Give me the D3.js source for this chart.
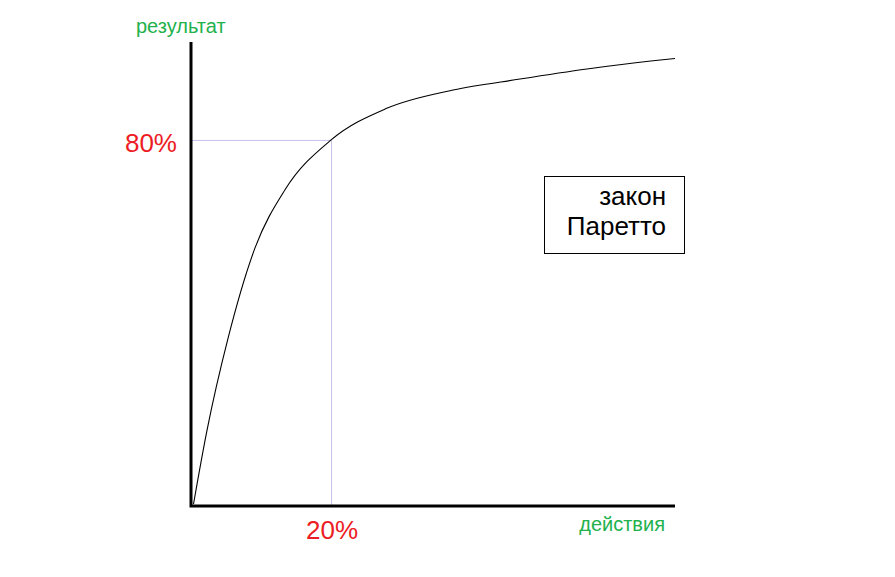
<!DOCTYPE html>
<html>
<head>
<meta charset="utf-8">
<script src="https://cdn.jsdelivr.net/npm/d3@7"></script>
<style>
  body { margin: 0; background: #fff; }
  text { font-family: "Liberation Sans", Arial, sans-serif; }
</style>
</head>
<body>
<div id="chart"></div>
<script>
// Curve of results vs effort
const effort = [0.36, 2.24, 5.33, 9.14, 13.42, 20, 27.94, 37.41, 46.97, 56.53, 65.96, 69.1];
const result = [0.44, 16.2, 36.9, 56.4, 69.1, 80, 86.9, 90.9, 93.3, 95.5, 97.3, 97.8];

// Marked point
const xMarks = [20];
const yMarks = [80];
const tickLabels = ['20%', '80%'];
const axisTitles = ['действия', 'результат'];
const boxLines = ['закон', 'Паретто'];

const width = 895;
const height = 577;

const svg = d3.select('#chart')
    .append('svg')
    .attr('width', width)
    .attr('height', height);

// Scales
const x = d3.scaleLinear().domain([0, 69.1]).range([191, 675]);
const y = d3.scaleLinear().domain([0, 101.4]).range([506, 42]);

const guideColor = '#c8bfe7';
const red = '#ed1c24';
const green = '#22b14c';

// Guide lines to the marked point
svg.append('path')
    .attr('d', `M${x(0)},${y(yMarks[0]) + 0.5}H${x(xMarks[0]) + 0.5}V${y(0)}`)
    .attr('fill', 'none')
    .attr('stroke', guideColor)
    .attr('stroke-width', 1);

// Curve
const points = effort.map((e, i) => [e, result[i]]);
svg.append('path')
    .datum(points)
    .attr('fill', 'none')
    .attr('stroke', '#000')
    .attr('stroke-width', 1.1)
    .attr('d', d3.line()
        .x(d => x(d[0]))
        .y(d => y(d[1]))
        .curve(d3.curveMonotoneX));

// Axes
svg.append('path')
    .attr('d', `M${x(0)},${y(101.4)}V${y(0)}H${x(69.1)}`)
    .attr('fill', 'none')
    .attr('stroke', '#000')
    .attr('stroke-width', 3);

// Tick labels
svg.append('text')
    .attr('x', x(xMarks[0]) + 1)
    .attr('y', 539)
    .attr('text-anchor', 'middle')
    .attr('fill', red)
    .style('font-size', '26px')
    .text(tickLabels[0]);

svg.append('text')
    .attr('x', 177)
    .attr('y', y(yMarks[0]) + 12)
    .attr('text-anchor', 'end')
    .attr('fill', red)
    .style('font-size', '26px')
    .text(tickLabels[1]);

// Axis titles
svg.append('text')
    .attr('x', 665)
    .attr('y', 531)
    .attr('text-anchor', 'end')
    .attr('fill', green)
    .style('font-size', '20px')
    .text(axisTitles[0]);

svg.append('text')
    .attr('x', 136)
    .attr('y', 33)
    .attr('fill', green)
    .style('font-size', '20px')
    .text(axisTitles[1]);

// Box with caption
svg.append('rect')
    .attr('x', 544.5)
    .attr('y', 176.5)
    .attr('width', 140)
    .attr('height', 77)
    .attr('fill', '#fff')
    .attr('stroke', '#000')
    .attr('stroke-width', 1);

svg.selectAll('.box-line')
    .data(boxLines)
    .join('text')
    .attr('class', 'box-line')
    .attr('x', 666)
    .attr('y', (d, i) => 205 + i * 30)
    .attr('text-anchor', 'end')
    .attr('fill', '#000')
    .style('font-size', '26px')
    .text(d => d);
</script>
</body>
</html>
